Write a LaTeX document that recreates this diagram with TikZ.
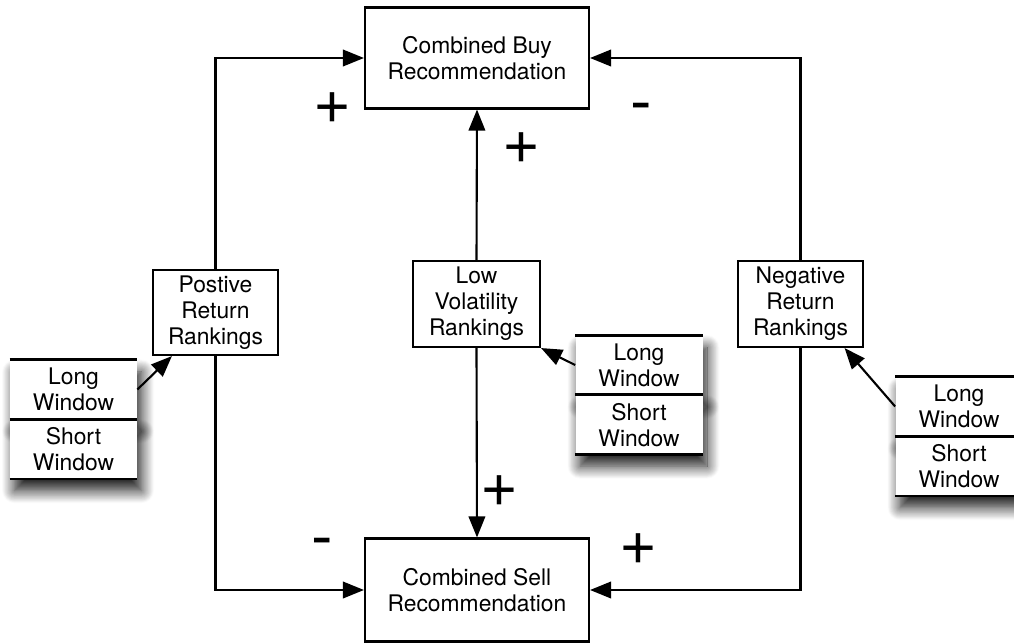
\documentclass[tikz,border=0pt]{standalone}
\usepackage{fontspec}
\setmainfont{TeX Gyre Heros}
\usepackage{xcolor}
\usepackage{tikz}
\usetikzlibrary{arrows.meta,positioning,shadows.blur}
\definecolor{ink}{RGB}{0,0,0}

\begin{document}
\begin{tikzpicture}[
  box/.style={draw=ink,line width=1.2pt,align=center,font=\fontsize{13}{14.8}\selectfont,inner sep=2pt},
  win/.style={fill=white,align=center,font=\fontsize{13}{14.8}\selectfont,minimum width=2.54cm,minimum height=1.18cm,inner sep=0pt,
    blur shadow={shadow xshift=0.9mm,shadow yshift=-2.4mm,shadow blur radius=2.5mm,shadow blur steps=14,shadow opacity=90}},
  sep/.style={ink,line width=1.6pt},
  arr/.style={ink,line width=1.2pt,-{Triangle[length=4.2mm,width=3.3mm]}},
  sign/.style={font=\fontsize{37}{37}\selectfont,inner sep=0pt}
]
\useasboundingbox (0,0) rectangle (20.28,12.86);
% recommendations
\node[box,minimum width=4.48cm,minimum height=2.02cm] (buy) at (9.54,11.70) {Combined Buy\\Recommendation};
\node[box,minimum width=4.48cm,minimum height=2.06cm] (sell) at (9.54,1.06) {Combined Sell\\Recommendation};
% rankings
\node[box,minimum width=2.5cm,minimum height=1.7cm] (pr) at (4.31,6.61) {Postive\\Return\\Rankings};
\node[box,minimum width=2.54cm,minimum height=1.72cm] (lv) at (9.53,6.78) {Low\\Volatility\\Rankings};
\node[box,minimum width=2.5cm,minimum height=1.72cm] (nr) at (16.01,6.78) {Negative\\Return\\Rankings};
% windows
\node[win] (ll) at (1.47,5.07) {Long\\Window};
\node[win,below=0pt of ll] (ls) {Short\\Window};
\node[win] (lm) at (12.78,5.56) {Long\\Window};
\node[win,below=0pt of lm] (ms) {Short\\Window};
\node[win] (lr) at (19.18,4.73) {Long\\Window};
\node[win,below=0pt of lr] (rs) {Short\\Window};
\draw[sep] (ll.north west) -- (ll.north east) (ls.north west) -- (ls.north east) (ls.south west) -- (ls.south east);
\draw[sep] (lm.north west) -- (lm.north east) (ms.north west) -- (ms.north east) (ms.south west) -- (ms.south east);
\draw[sep] (lr.north west) -- (lr.north east) (rs.north west) -- (rs.north east) (rs.south west) -- (rs.south east);
% connectors
\draw[arr] (pr.north) |- (buy.west);
\draw[arr] (pr.south) |- (sell.west);
\draw[arr] (nr.north) |- (buy.east);
\draw[arr] (nr.south) |- (sell.east);
\draw[arr] (lv.north) -- (buy.south);
\draw[arr] (lv.south) -- (sell.north);
\draw[arr] (ll.east) -- (pr.225);
\draw[arr] (lm.west) -- (lv.south east);
\draw[arr] (lr.west) -- (nr.-45);
% signs
\node[sign] (s1) at (6.64,10.70) {+};
\node[sign] (s2) at (12.82,10.59) {-};
\node[sign] (s3) at (10.42,9.90) {+};
\node[sign] (s4) at (9.98,3.04) {+};
\node[sign] (s5) at (6.44,1.89) {-};
\node[sign] (s6) at (12.76,1.88) {+};
\end{tikzpicture}
\end{document}
